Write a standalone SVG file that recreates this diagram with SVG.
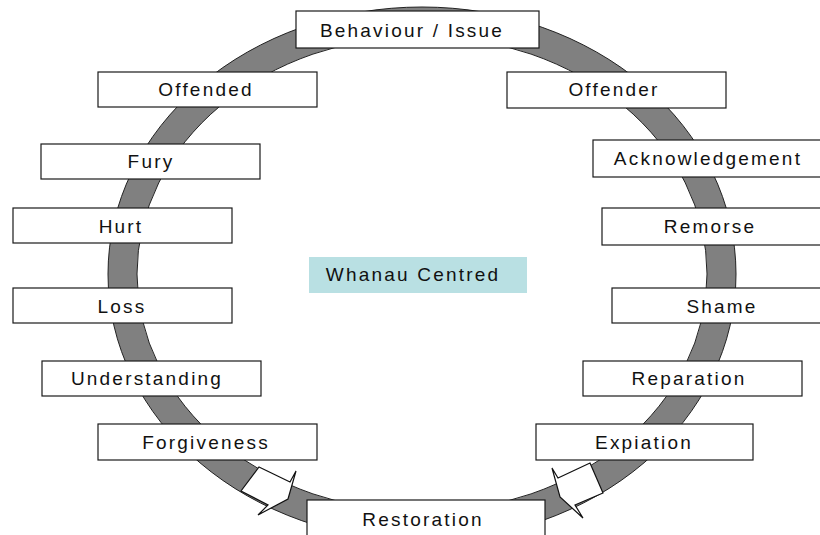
<svg xmlns="http://www.w3.org/2000/svg" width="820" height="535" viewBox="0 0 820 535">
<style>
.box{fill:#fff;stroke:#1a1a1a;stroke-width:1.2}
.lbl{font-family:"Liberation Sans",Arial,sans-serif;font-size:19px;letter-spacing:2.2px;fill:#111;text-anchor:middle}
.ring{fill:#808080;stroke:#222;stroke-width:1;fill-rule:evenodd}
.arrow{fill:#fff;stroke:#111;stroke-width:1.2;stroke-linejoin:miter}
</style>
<rect width="820" height="535" fill="#fff"/>
<g id="connectors">
<path class="ring" d="M108,274 A314,267 0 1,0 736,274 A314,267 0 1,0 108,274 Z M137,274 A285,238 0 1,0 707,274 A285,238 0 1,0 137,274 Z"/>
<polygon class="arrow" points="259,467 290,482 296,471 288,499 258,515 268,505 241,491"/>
<polygon class="arrow" points="590,463 603,493 575,505 583,518 560,497 552,468 558,478"/>
</g>
<g id="behaviour"><rect class="box" x="296" y="11" width="243" height="37"/><text class="lbl" x="412" y="37">Behaviour / Issue</text></g>
<g id="offended"><rect class="box" x="98" y="72" width="219" height="35"/><text class="lbl" x="206" y="96">Offended</text></g>
<g id="fury"><rect class="box" x="41" y="144" width="219" height="35"/><text class="lbl" x="151" y="168">Fury</text></g>
<g id="hurt"><rect class="box" x="13" y="208" width="219" height="35"/><text class="lbl" x="121" y="233">Hurt</text></g>
<g id="loss"><rect class="box" x="13" y="288" width="219" height="35"/><text class="lbl" x="122" y="313">Loss</text></g>
<g id="understanding"><rect class="box" x="42" y="361" width="219" height="35"/><text class="lbl" x="147" y="385">Understanding</text></g>
<g id="forgiveness"><rect class="box" x="98" y="424" width="219" height="36"/><text class="lbl" x="206" y="449">Forgiveness</text></g>
<g id="offender"><rect class="box" x="507" y="72" width="219" height="36"/><text class="lbl" x="614" y="96">Offender</text></g>
<g id="acknowledgement"><rect class="box" x="593" y="140" width="240" height="37"/><text class="lbl" x="708" y="165">Acknowledgement</text></g>
<g id="remorse"><rect class="box" x="602" y="208" width="230" height="37"/><text class="lbl" x="710" y="233">Remorse</text></g>
<g id="shame"><rect class="box" x="612" y="288" width="220" height="35"/><text class="lbl" x="722" y="313">Shame</text></g>
<g id="reparation"><rect class="box" x="583" y="361" width="219" height="35"/><text class="lbl" x="689" y="385">Reparation</text></g>
<g id="expiation"><rect class="box" x="536" y="424" width="217" height="36"/><text class="lbl" x="644" y="449">Expiation</text></g>
<g id="restoration"><rect class="box" x="307" y="500" width="238" height="45"/><text class="lbl" x="423" y="526">Restoration</text></g>
<g id="whanau"><rect x="309" y="257" width="218" height="36" fill="#b9e0e3"/><text class="lbl" x="413" y="281">Whanau Centred</text></g>
</svg>
